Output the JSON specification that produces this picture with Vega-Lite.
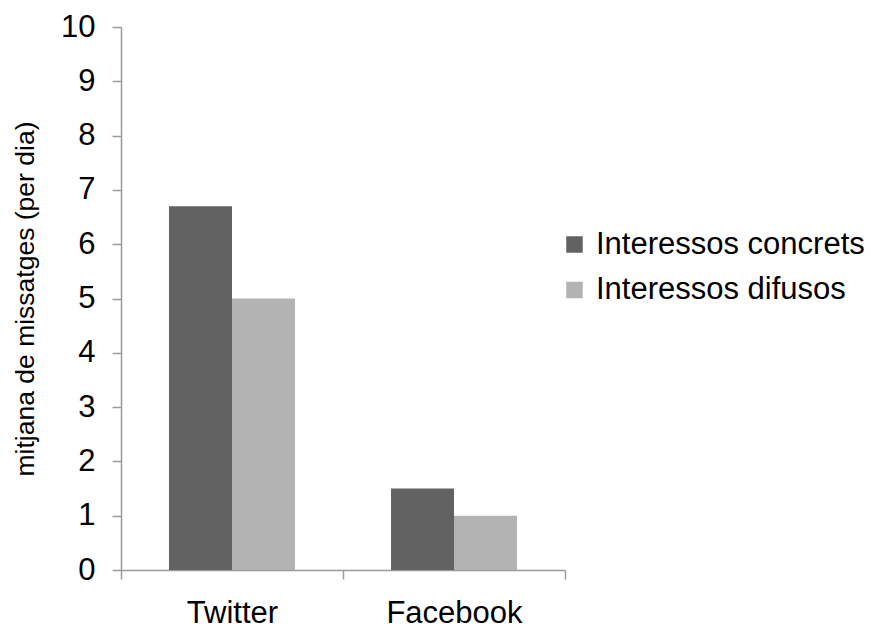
{
  "$schema": "https://vega.github.io/schema/vega-lite/v6.json",
  "width": 444,
  "height": 543,
  "autosize": {"type": "none"},
  "padding": {"left": 121, "top": 27, "right": 306, "bottom": 59},
  "background": "white",
  "config": {
    "font": "Liberation Sans",
    "view": {"stroke": null},
    "axis": {"grid": false, "domainColor": "#9a9a9a", "tickColor": "#9a9a9a", "domainWidth": 1.5, "tickWidth": 1.5, "labelColor": "black", "titleColor": "black", "labelFont": "Liberation Sans", "titleFont": "Liberation Sans"}
  },
  "data": {
    "values": [
      {"xarxa": "Twitter", "grup": "Interessos concrets", "mitjana": 6.7},
      {"xarxa": "Twitter", "grup": "Interessos difusos", "mitjana": 5.0},
      {"xarxa": "Facebook", "grup": "Interessos concrets", "mitjana": 1.5},
      {"xarxa": "Facebook", "grup": "Interessos difusos", "mitjana": 1.0}
    ]
  },
  "mark": {"type": "bar"},
  "encoding": {
    "x": {
      "field": "xarxa",
      "type": "nominal",
      "sort": ["Twitter", "Facebook"],
      "scale": {"paddingInner": 0, "paddingOuter": 0},
      "axis": {
        "title": null,
        "labelAngle": 0,
        "labelFontSize": 31,
        "labelPadding": 19,
        "tickSize": 9,
        "tickBand": "extent"
      }
    },
    "xOffset": {
      "field": "grup",
      "type": "nominal",
      "scale": {"paddingInner": 0, "paddingOuter": 0.762}
    },
    "y": {
      "field": "mitjana",
      "type": "quantitative",
      "scale": {"domain": [0, 10], "nice": false},
      "axis": {
        "title": "mitjana de missatges (per dia)",
        "titleFontSize": 26.5,
        "titleFontWeight": "normal",
        "titlePadding": 21,
        "values": [0, 1, 2, 3, 4, 5, 6, 7, 8, 9, 10],
        "labelFontSize": 31,
        "labelPadding": 17,
        "tickSize": 9
      }
    },
    "color": {
      "field": "grup",
      "type": "nominal",
      "scale": {"domain": ["Interessos concrets", "Interessos difusos"], "range": ["#626262", "#b3b3b3"]},
      "legend": {
        "title": null,
        "orient": "none",
        "legendX": 438,
        "legendY": 202,
        "symbolType": "square",
        "symbolSize": 272,
        "symbolStrokeWidth": 0,
        "symbolOpacity": 1,
        "labelFontSize": 31,
        "labelColor": "black",
        "labelOffset": 6,
        "rowPadding": 13.5,
        "labelLimit": 400
      }
    }
  }
}
